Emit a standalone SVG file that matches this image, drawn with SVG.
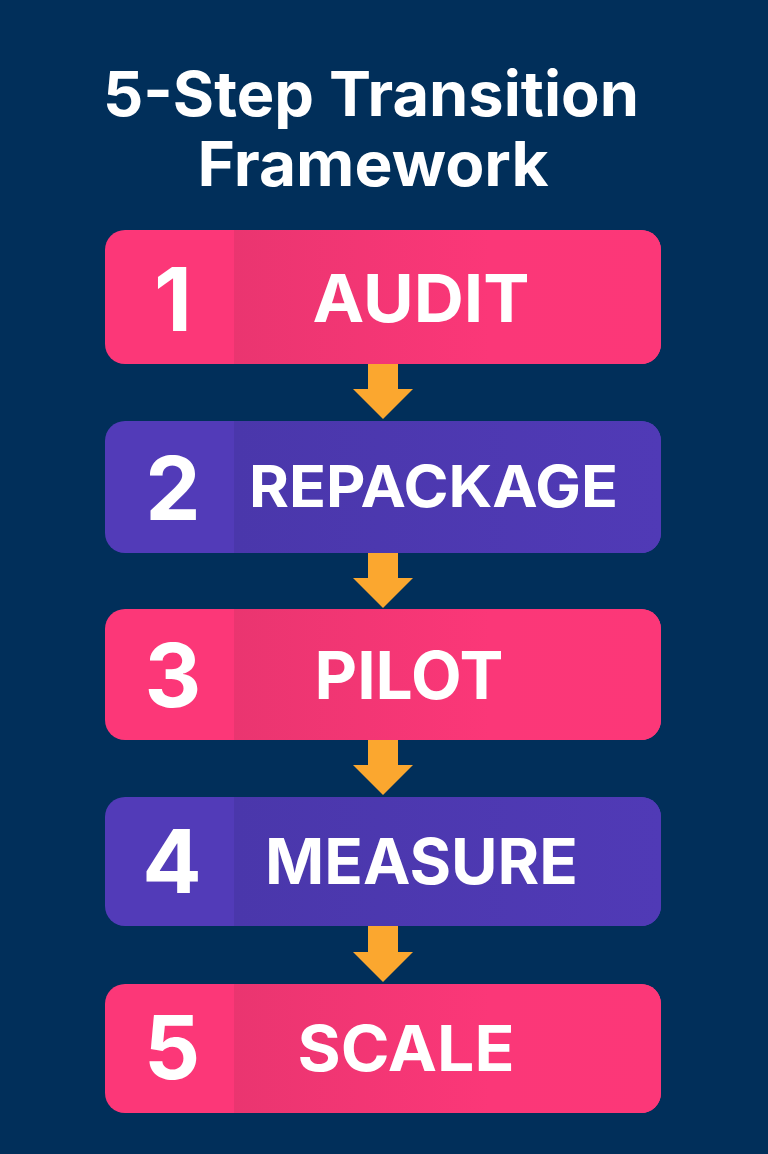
<svg xmlns="http://www.w3.org/2000/svg" width="768" height="1154" viewBox="0 0 768 1154">
<defs>
<linearGradient id="gp" x1="0" x2="1" y1="0" y2="0"><stop offset="0" stop-color="#ea3570"/><stop offset="0.6" stop-color="#fb3778"/><stop offset="1" stop-color="#fc3778"/></linearGradient>
<linearGradient id="gv" x1="0" x2="1" y1="0" y2="0"><stop offset="0" stop-color="#4a37ab"/><stop offset="1" stop-color="#503ab6"/></linearGradient>
</defs>
<style>
.t{font-family:"Inter","Liberation Sans",sans-serif;fill:#fff;font-weight:700;text-anchor:middle}
.h{font-size:62px}
.n{font-size:88px}
.l{font-size:66px}
.pink{fill:#fc3778}.pinkd{fill:url(#gp)}
.pur{fill:#523bb8}.purd{fill:url(#gv)}
.ar{fill:#fba72f}
</style>
<rect width="768" height="1154" fill="#012f5a"/>
<g id="title"><text class="t h" x="371" y="116" textLength="536" lengthAdjust="spacingAndGlyphs">5-Step Transition</text><text class="t h" x="373" y="186" textLength="351" lengthAdjust="spacingAndGlyphs">Framework</text></g>
<g id="connectors">
<path class="ar" d="M368 364H398V389H413L383 419L353 389H368Z"/>
<path class="ar" d="M368 553H398V578H413L383 608L353 578H368Z"/>
<path class="ar" d="M368 740H398V765H413L383 795L353 765H368Z"/>
<path class="ar" d="M368 926H398V952H413L383 982L353 952H368Z"/>
</g>
<g id="step1"><rect class="pink" x="105" y="230" width="556" height="134" rx="20"/><path class="pinkd" d="M234 230H641a20 20 0 0 1 20 20V344a20 20 0 0 1-20 20H234Z"/><text class="t n" x="173" y="331">1</text><text class="t l" x="421" y="322" textLength="217" lengthAdjust="spacingAndGlyphs">AUDIT</text></g>
<g id="step2"><rect class="pur" x="105" y="421" width="556" height="132" rx="20"/><path class="purd" d="M234 421H641a20 20 0 0 1 20 20V533a20 20 0 0 1-20 20H234Z"/><text class="t n" x="173" y="520">2</text><text class="t" style="font-size:58px" x="433.500" y="507" textLength="369" lengthAdjust="spacingAndGlyphs">REPACKAGE</text></g>
<g id="step3"><rect class="pink" x="105" y="609" width="556" height="131" rx="20"/><path class="pinkd" d="M234 609H641a20 20 0 0 1 20 20V720a20 20 0 0 1-20 20H234Z"/><text class="t n" x="173" y="707">3</text><text class="t l" x="409" y="699" textLength="189" lengthAdjust="spacingAndGlyphs">PILOT</text></g>
<g id="step4"><rect class="pur" x="105" y="797" width="556" height="129" rx="20"/><path class="purd" d="M234 797H641a20 20 0 0 1 20 20V906a20 20 0 0 1-20 20H234Z"/><text class="t n" x="172" y="893">4</text><text class="t" style="font-size:63px" x="421.500" y="884" textLength="313" lengthAdjust="spacingAndGlyphs">MEASURE</text></g>
<g id="step5"><rect class="pink" x="105" y="984" width="556" height="129" rx="20"/><path class="pinkd" d="M234 984H641a20 20 0 0 1 20 20V1093a20 20 0 0 1-20 20H234Z"/><text class="t n" x="172" y="1079">5</text><text class="t" style="font-size:63px" x="406" y="1071" textLength="217" lengthAdjust="spacingAndGlyphs">SCALE</text></g>
</svg>
